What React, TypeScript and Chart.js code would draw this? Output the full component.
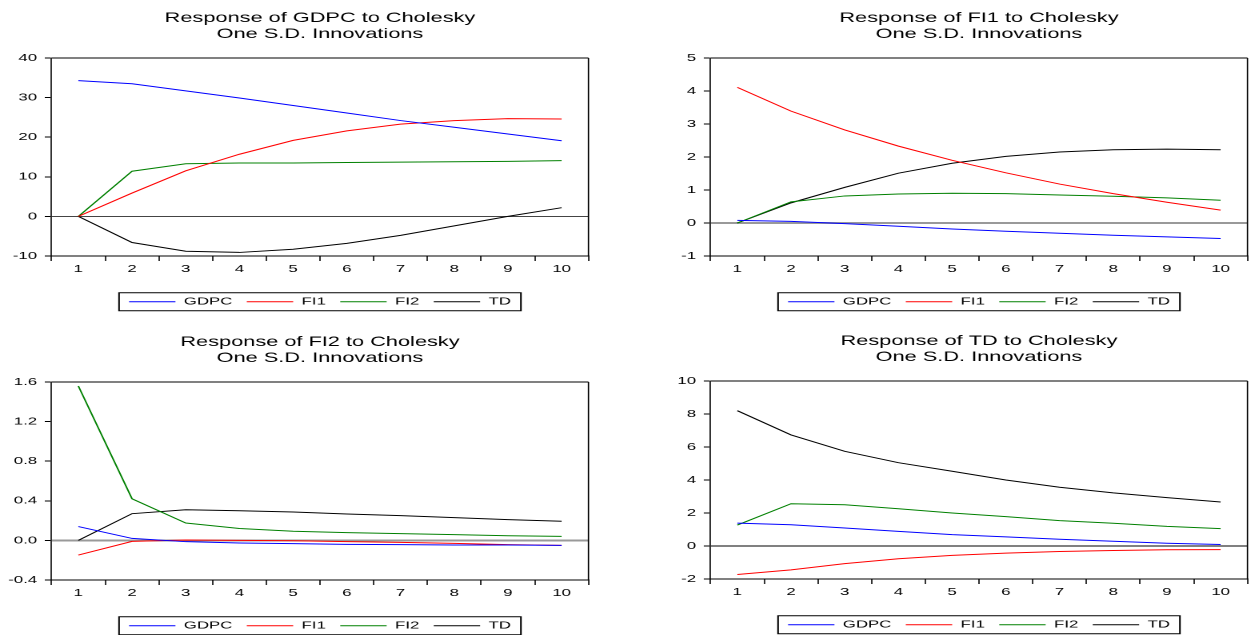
import React, { useEffect, useRef } from 'react';
import { Chart, registerables } from 'chart.js';

Chart.register(...registerables);

// ---------- data ----------
const periods = ['1', '2', '3', '4', '5', '6', '7', '8', '9', '10'];
const seriesNames = ['GDPC', 'FI1', 'FI2', 'TD'];
const seriesColors = ['#0000ff', '#ff0000', '#008000', '#000000'];

// Response of GDPC
const gdpcToGDPC = [34.3, 33.5, 31.7, 29.9, 28.0, 26.1, 24.2, 22.5, 20.8, 19.1];
const gdpcToFI1 = [0, 5.9, 11.5, 15.7, 19.2, 21.6, 23.3, 24.2, 24.7, 24.6];
const gdpcToFI2 = [0, 11.4, 13.3, 13.5, 13.5, 13.6, 13.7, 13.8, 13.9, 14.1];
const gdpcToTD = [0, -6.6, -8.8, -9.1, -8.3, -6.8, -4.8, -2.4, 0.0, 2.2];
const gdpcTicks = [-10, 0, 10, 20, 30, 40];

// Response of FI1
const fi1ToGDPC = [0.08, 0.05, -0.02, -0.1, -0.18, -0.25, -0.31, -0.37, -0.42, -0.47];
const fi1ToFI1 = [4.11, 3.39, 2.82, 2.33, 1.9, 1.52, 1.18, 0.89, 0.63, 0.39];
const fi1ToFI2 = [0, 0.64, 0.82, 0.88, 0.9, 0.89, 0.85, 0.81, 0.76, 0.69];
const fi1ToTD = [0, 0.61, 1.08, 1.51, 1.81, 2.02, 2.15, 2.22, 2.24, 2.22];
const fi1Ticks = [-1, 0, 1, 2, 3, 4, 5];

// Response of FI2
const fi2ToGDPC = [0.14, 0.02, -0.013, -0.026, -0.033, -0.04, -0.043, -0.046, -0.047, -0.05];
const fi2ToFI1 = [-0.148, -0.01, 0.004, 0.0, -0.004, -0.013, -0.02, -0.03, -0.043, -0.05];
const fi2ToFI2 = [1.56, 0.42, 0.176, 0.12, 0.092, 0.078, 0.068, 0.058, 0.047, 0.041];
const fi2ToTD = [0, 0.27, 0.31, 0.3, 0.287, 0.267, 0.25, 0.23, 0.21, 0.193];
const fi2Ticks = [-0.4, 0.0, 0.4, 0.8, 1.2, 1.6];

// Response of TD
const tdToGDPC = [1.39, 1.29, 1.09, 0.89, 0.69, 0.55, 0.41, 0.29, 0.17, 0.09];
const tdToFI1 = [-1.73, -1.45, -1.07, -0.77, -0.57, -0.43, -0.33, -0.27, -0.23, -0.22];
const tdToFI2 = [1.27, 2.56, 2.5, 2.26, 2.0, 1.78, 1.54, 1.38, 1.19, 1.05];
const tdToTD = [8.2, 6.73, 5.74, 5.05, 4.53, 4.0, 3.56, 3.22, 2.93, 2.67];
const tdTicks = [-2, 0, 2, 4, 6, 8, 10];

// ---------- layout ----------
const FONT = "'Liberation Sans', Arial, Helvetica, sans-serif";
const S = 1.6; // horizontal stretch of the original graphic
const LW = 400; // logical canvas width
const LH = 324; // canvas height
const HALF_AREA = 268.5; // half plot width in page pixels
const AXIS_W = (LW * S / 2 - HALF_AREA) / S;

const framePlugin = {
  id: 'frames',
  afterDraw(chart: any) {
    const { ctx, chartArea: a } = chart;
    ctx.save();
    ctx.strokeStyle = '#000';
    ctx.lineWidth = 1;
    ctx.beginPath();
    ctx.moveTo(a.left, a.top);
    ctx.lineTo(a.right, a.top);
    ctx.stroke();
    ctx.lineWidth = 0.8;
    ctx.beginPath();
    ctx.moveTo(a.right, a.top);
    ctx.lineTo(a.right, a.bottom);
    ctx.stroke();
    const hb = chart.legend && chart.legend.legendHitBoxes;
    if (hb && hb.length) {
      const last = hb[hb.length - 1];
      const l = hb[0].left - 6.25;
      const r = last.left + last.width + 6.25;
      const cy = hb[0].top + hb[0].height / 2;
      ctx.lineWidth = 1;
      ctx.strokeRect(l, cy - 9, r - l, 18);
    }
    ctx.restore();
  },
};

type PanelProps = {
  title: string;
  series: number[][];
  ticks: number[];
  decimals: number;
  zeroColor: string;
  zeroWidth: number;
  left: number;
  top: number;
};

function Panel({ title, series, ticks, decimals, zeroColor, zeroWidth, left, top }: PanelProps) {
  const ref = useRef<HTMLCanvasElement | null>(null);
  useEffect(() => {
    if (!ref.current) return;
    const chart = new Chart(ref.current, {
      type: 'line',
      data: {
        labels: periods,
        datasets: series.map((d, i) => ({
          label: seriesNames[i],
          data: d,
          borderColor: seriesColors[i],
          backgroundColor: seriesColors[i],
          borderWidth: 1,
          pointRadius: 0,
          tension: 0,
          fill: false,
        })),
      },
      options: {
        responsive: false,
        devicePixelRatio: 2,
        animation: false,
        events: [],
        layout: { padding: { top: 0, left: 0, right: 0, bottom: 7 } },
        plugins: {
          title: {
            display: true,
            text: [title, 'One S.D. Innovations'],
            color: '#000',
            font: { family: FONT, size: 13.6, weight: 'normal', lineHeight: '16px' },
            padding: { top: 10, bottom: 16 },
          },
          legend: {
            display: true,
            position: 'bottom',
            labels: {
              usePointStyle: true,
              pointStyle: 'line',
              pointStyleWidth: 29,
              padding: 9,
              color: '#000',
              font: { family: FONT, size: 10.5 },
            },
          },
          tooltip: { enabled: false },
        },
        scales: {
          x: {
            type: 'category',
            offset: true,
            grid: {
              offset: true,
              drawOnChartArea: false,
              drawTicks: true,
              tickLength: 5,
              color: '#000',
              lineWidth: 0.8,
            },
            border: { display: true, color: '#000', width: 1 },
            ticks: {
              color: '#000',
              font: { family: FONT, size: 10.5, lineHeight: 1.2 },
              padding: 1.7,
              maxRotation: 0,
              autoSkip: false,
            },
            afterFit: (s: any) => {
              s.height = 31.5;
            },
          },
          y: {
            type: 'linear',
            position: 'left',
            min: ticks[0],
            max: ticks[ticks.length - 1],
            afterBuildTicks: (s: any) => {
              s.ticks = ticks.map((v) => ({ value: v }));
            },
            grid: {
              drawTicks: true,
              tickLength: 4.2,
              color: (c: any) => (c.tick && c.tick.value === 0 ? zeroColor : 'rgba(0,0,0,0)'),
              lineWidth: (c: any) => (c.tick && c.tick.value === 0 ? zeroWidth : 1),
              tickColor: '#000',
              tickWidth: 1,
            },
            border: { display: true, color: '#000', width: 0.8 },
            ticks: {
              color: '#000',
              font: { family: FONT, size: 10.5 },
              padding: 4.75,
              callback: (v: any) => Number(v).toFixed(decimals),
            },
            afterFit: (s: any) => {
              s.width = AXIS_W;
            },
          },
          yr: {
            type: 'linear',
            position: 'right',
            display: true,
            grid: { display: false, drawTicks: false },
            border: { display: false },
            ticks: { display: false },
            afterFit: (s: any) => {
              s.width = AXIS_W;
            },
          },
        },
      } as any,
      plugins: [framePlugin],
    });
    return () => chart.destroy();
  }, []);
  return (
    <canvas
      ref={ref}
      width={LW}
      height={LH}
      style={{ position: 'absolute', left, top, width: `${LW * S}px`, height: `${LH}px` }}
    />
  );
}

export default function App() {
  return (
    <div
      style={{
        position: 'fixed',
        left: 0,
        top: 0,
        width: 1253,
        height: 635,
        overflow: 'hidden',
        background: '#fff',
      }}
    >
      <Panel
        title="Response of GDPC to Cholesky"
        series={[gdpcToGDPC, gdpcToFI1, gdpcToFI2, gdpcToTD]}
        ticks={gdpcTicks}
        decimals={0}
        zeroColor="#444"
        zeroWidth={1}
        left={-0.5}
        top={0}
      />
      <Panel
        title="Response of FI1 to Cholesky"
        series={[fi1ToGDPC, fi1ToFI1, fi1ToFI2, fi1ToTD]}
        ticks={fi1Ticks}
        decimals={0}
        zeroColor="#999"
        zeroWidth={2}
        left={659}
        top={0}
      />
      <Panel
        title="Response of FI2 to Cholesky"
        series={[fi2ToGDPC, fi2ToFI1, fi2ToFI2, fi2ToTD]}
        ticks={fi2Ticks}
        decimals={1}
        zeroColor="#999"
        zeroWidth={2}
        left={-0.5}
        top={324}
      />
      <Panel
        title="Response of TD to Cholesky"
        series={[tdToGDPC, tdToFI1, tdToFI2, tdToTD]}
        ticks={tdTicks}
        decimals={0}
        zeroColor="#000"
        zeroWidth={1}
        left={659}
        top={323}
      />
    </div>
  );
}
